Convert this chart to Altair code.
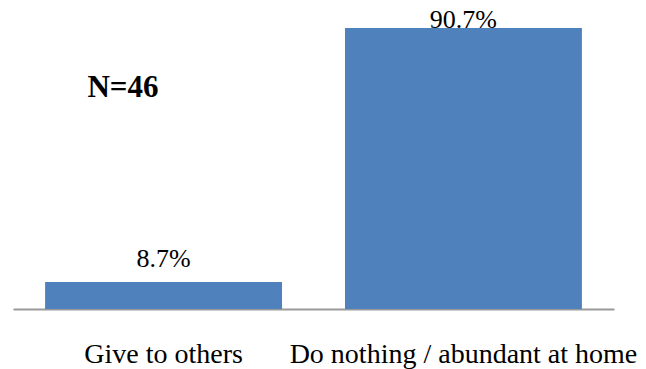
import altair as alt
import pandas as pd

categories = ["Give to others", "Do nothing / abundant at home"]
values = [8.7, 90.7]
labels = ["8.7%", "90.7%"]
note = "N=46"

df = pd.DataFrame({"cat": categories, "val": values, "lab": labels})

FONT = "'Liberation Serif', 'Times New Roman', Times, 'DejaVu Serif', serif"

x = alt.X("cat:N", sort=categories,
          scale=alt.Scale(paddingInner=0.21, paddingOuter=0.107),
          axis=alt.Axis(title=None, labelAngle=0, ticks=False, domainColor="#9a9a9a",
                        domainWidth=2, labelFont=FONT, labelFontSize=28, labelColor="#000000",
                        labelBaseline="alphabetic", labelPadding=53, labelLimit=600,
                        labelOverlap=False, labelBound=False))
y = alt.Y("val:Q", scale=alt.Scale(domain=[0, 96.8]), axis=None)

bars = alt.Chart(df).mark_bar(color="#4F81BD").encode(x=x, y=y)
text = alt.Chart(df).transform_calculate(
    ly="min(datum.val + 4.8, 90.6)"
).mark_text(font=FONT, fontSize=26, baseline="alphabetic", color="#000000").encode(
    x=x, y=alt.Y("ly:Q", scale=alt.Scale(domain=[0, 96.8]), axis=None), text="lab:N")
n_text = alt.Chart(pd.DataFrame({"t": [note]})).mark_text(
    font=FONT, fontSize=31, fontWeight="bold", baseline="alphabetic", color="#000000").encode(
    x=alt.value(110), y=alt.value(88), text="t:N")

chart = (bars + text + n_text).properties(
    width=601, height=300,
    autosize=alt.AutoSizeParams(type="none"),
    padding={"left": 5, "top": 1, "right": 24, "bottom": 60},
).configure_view(stroke=None)

chart.save("out.html", embed_options={"renderer": "svg", "actions": False})
